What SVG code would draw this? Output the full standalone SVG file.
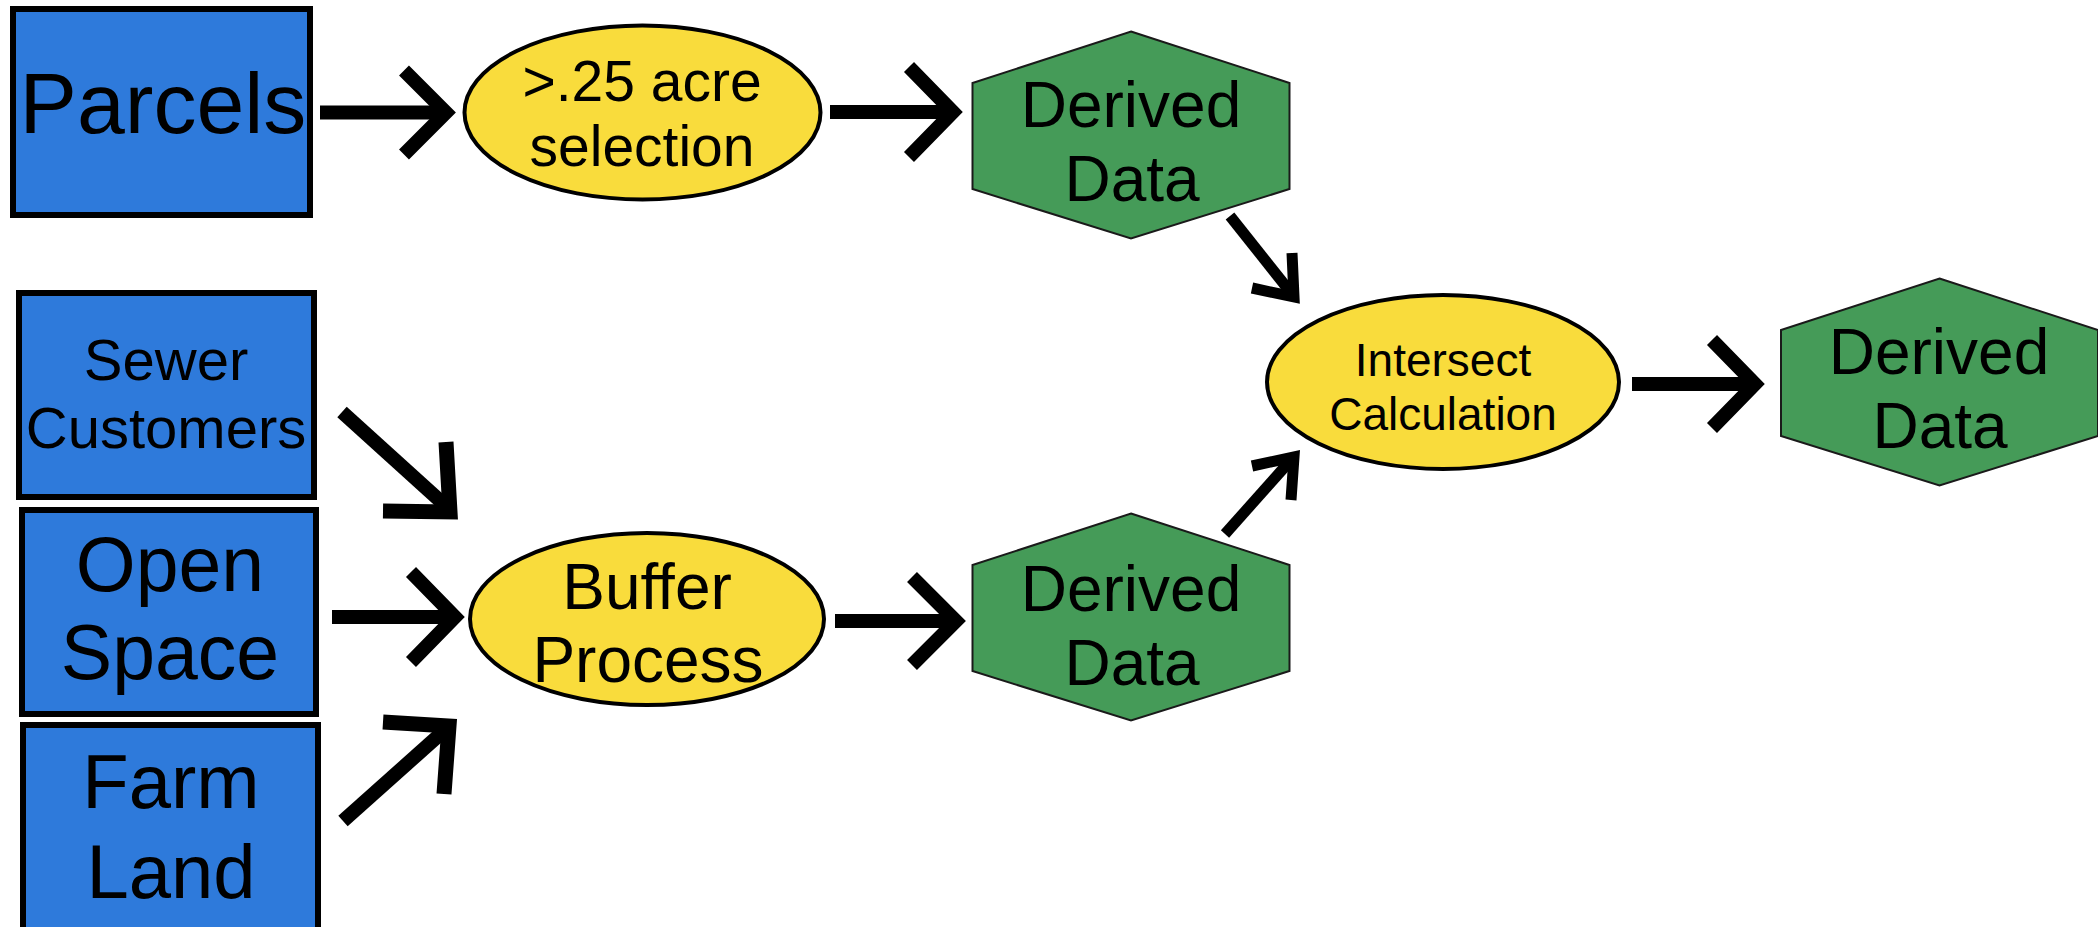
<svg xmlns="http://www.w3.org/2000/svg" width="2098" height="927" viewBox="0 0 2098 927">
<style>
  .src { fill: #2E7ADB; stroke: #000; stroke-width: 6; }
  .proc { fill: #F9DC3C; stroke: #000; stroke-width: 4; }
  .hex { fill: #459B58; stroke: #1a1a1a; stroke-width: 2; }
  text { font-family: "Liberation Sans", Arial, Helvetica, sans-serif; fill: #000; text-anchor: middle; }
  .con line, .con polyline { fill: none; stroke: #000; stroke-linecap: butt; stroke-linejoin: miter; stroke-miterlimit: 10; }
  .thick { stroke-width: 14; }
  .mid { stroke-width: 14; }
  .arm { stroke-width: 15; }
  .thin { stroke-width: 11; }
</style>
<rect width="2098" height="927" fill="#fff"/>

<g id="parcels">
  <rect class="src" x="13" y="9" width="297" height="206"/>
  <text x="163" y="133" font-size="86">Parcels</text>
</g>
<g id="sewer-customers">
  <rect class="src" x="19" y="293" width="295" height="204"/>
  <text x="166" y="380" font-size="58">Sewer</text>
  <text x="166" y="448" font-size="58">Customers</text>
</g>
<g id="open-space">
  <rect class="src" x="22" y="510" width="294" height="204"/>
  <text x="170" y="591" font-size="77">Open</text>
  <text x="170" y="679" font-size="77">Space</text>
</g>
<g id="farm-land">
  <rect class="src" x="23" y="725" width="295" height="220"/>
  <text x="171" y="808" font-size="76">Farm</text>
  <text x="171" y="898" font-size="76">Land</text>
</g>

<g id="acre-selection">
  <ellipse class="proc" cx="642.5" cy="112.5" rx="178" ry="87"/>
  <text x="642" y="101" font-size="57">&gt;.25 acre</text>
  <text x="642" y="166" font-size="57">selection</text>
</g>
<g id="buffer-process">
  <ellipse class="proc" cx="647" cy="619" rx="177" ry="86"/>
  <text x="647" y="609" font-size="64">Buffer</text>
  <text x="648" y="682" font-size="64">Process</text>
</g>
<g id="intersect-calculation">
  <ellipse class="proc" cx="1443" cy="382" rx="176" ry="87"/>
  <text x="1443" y="376" font-size="46">Intersect</text>
  <text x="1443" y="430" font-size="46">Calculation</text>
</g>

<g id="derived-data-1">
  <polygon class="hex" points="1131,31.5 1289.5,83 1289.5,189 1131,238.5 972.5,189 972.5,83"/>
  <text x="1131" y="127" font-size="64">Derived</text>
  <text x="1132" y="201" font-size="64">Data</text>
</g>
<g id="derived-data-2">
  <polygon class="hex" points="1131,513.5 1289.5,565 1289.5,671 1131,720.5 972.5,671 972.5,565"/>
  <text x="1131" y="611" font-size="64">Derived</text>
  <text x="1132" y="685" font-size="64">Data</text>
</g>
<g id="derived-data-3">
  <polygon class="hex" points="1939.5,278.5 2098,330 2098,436 1939.5,485.5 1781,436 1781,330"/>
  <text x="1939" y="374" font-size="64">Derived</text>
  <text x="1940" y="448" font-size="64">Data</text>
</g>

<g id="connectors" class="con">
  <!-- Parcels -> >.25 acre selection -->
  <line class="thick" x1="320" y1="112.5" x2="448" y2="112.5"/>
  <polyline class="thick" points="404,70.5 446,112.5 404,154.5"/>
  <!-- selection -> Derived Data 1 -->
  <line class="thick" x1="830" y1="112" x2="954" y2="112"/>
  <polyline class="thick" points="909,67 953,112 909,157"/>
  <!-- Sewer Customers -> Buffer -->
  <line class="mid" x1="342" y1="412" x2="448" y2="508"/>
  <polyline class="arm" points="446,442 450,512 383,511"/>
  <!-- Open Space -> Buffer -->
  <line class="mid" x1="332" y1="617" x2="456" y2="617"/>
  <polyline class="mid" points="411,572 455,617 411,662"/>
  <!-- Farm Land -> Buffer -->
  <line class="mid" x1="343" y1="821" x2="446" y2="729"/>
  <polyline class="arm" points="383,722 449,726 444,794"/>
  <!-- Buffer -> Derived Data 2 -->
  <line class="thick" x1="835" y1="621" x2="958" y2="621"/>
  <polyline class="thick" points="912,577 956,621 912,665"/>
  <!-- Derived Data 1 -> Intersect -->
  <line class="thin" x1="1230" y1="216" x2="1292" y2="294"/>
  <polyline class="thin" points="1292,253 1294,297 1252,288"/>
  <!-- Derived Data 2 -> Intersect -->
  <line class="thin" x1="1225" y1="534" x2="1290" y2="461"/>
  <polyline class="thin" points="1252,466 1294,457 1291,500"/>
  <!-- Intersect -> Derived Data 3 -->
  <line class="thick" x1="1632" y1="384" x2="1758" y2="384"/>
  <polyline class="thick" points="1712,340 1755,384 1712,428"/>
</g>
</svg>
